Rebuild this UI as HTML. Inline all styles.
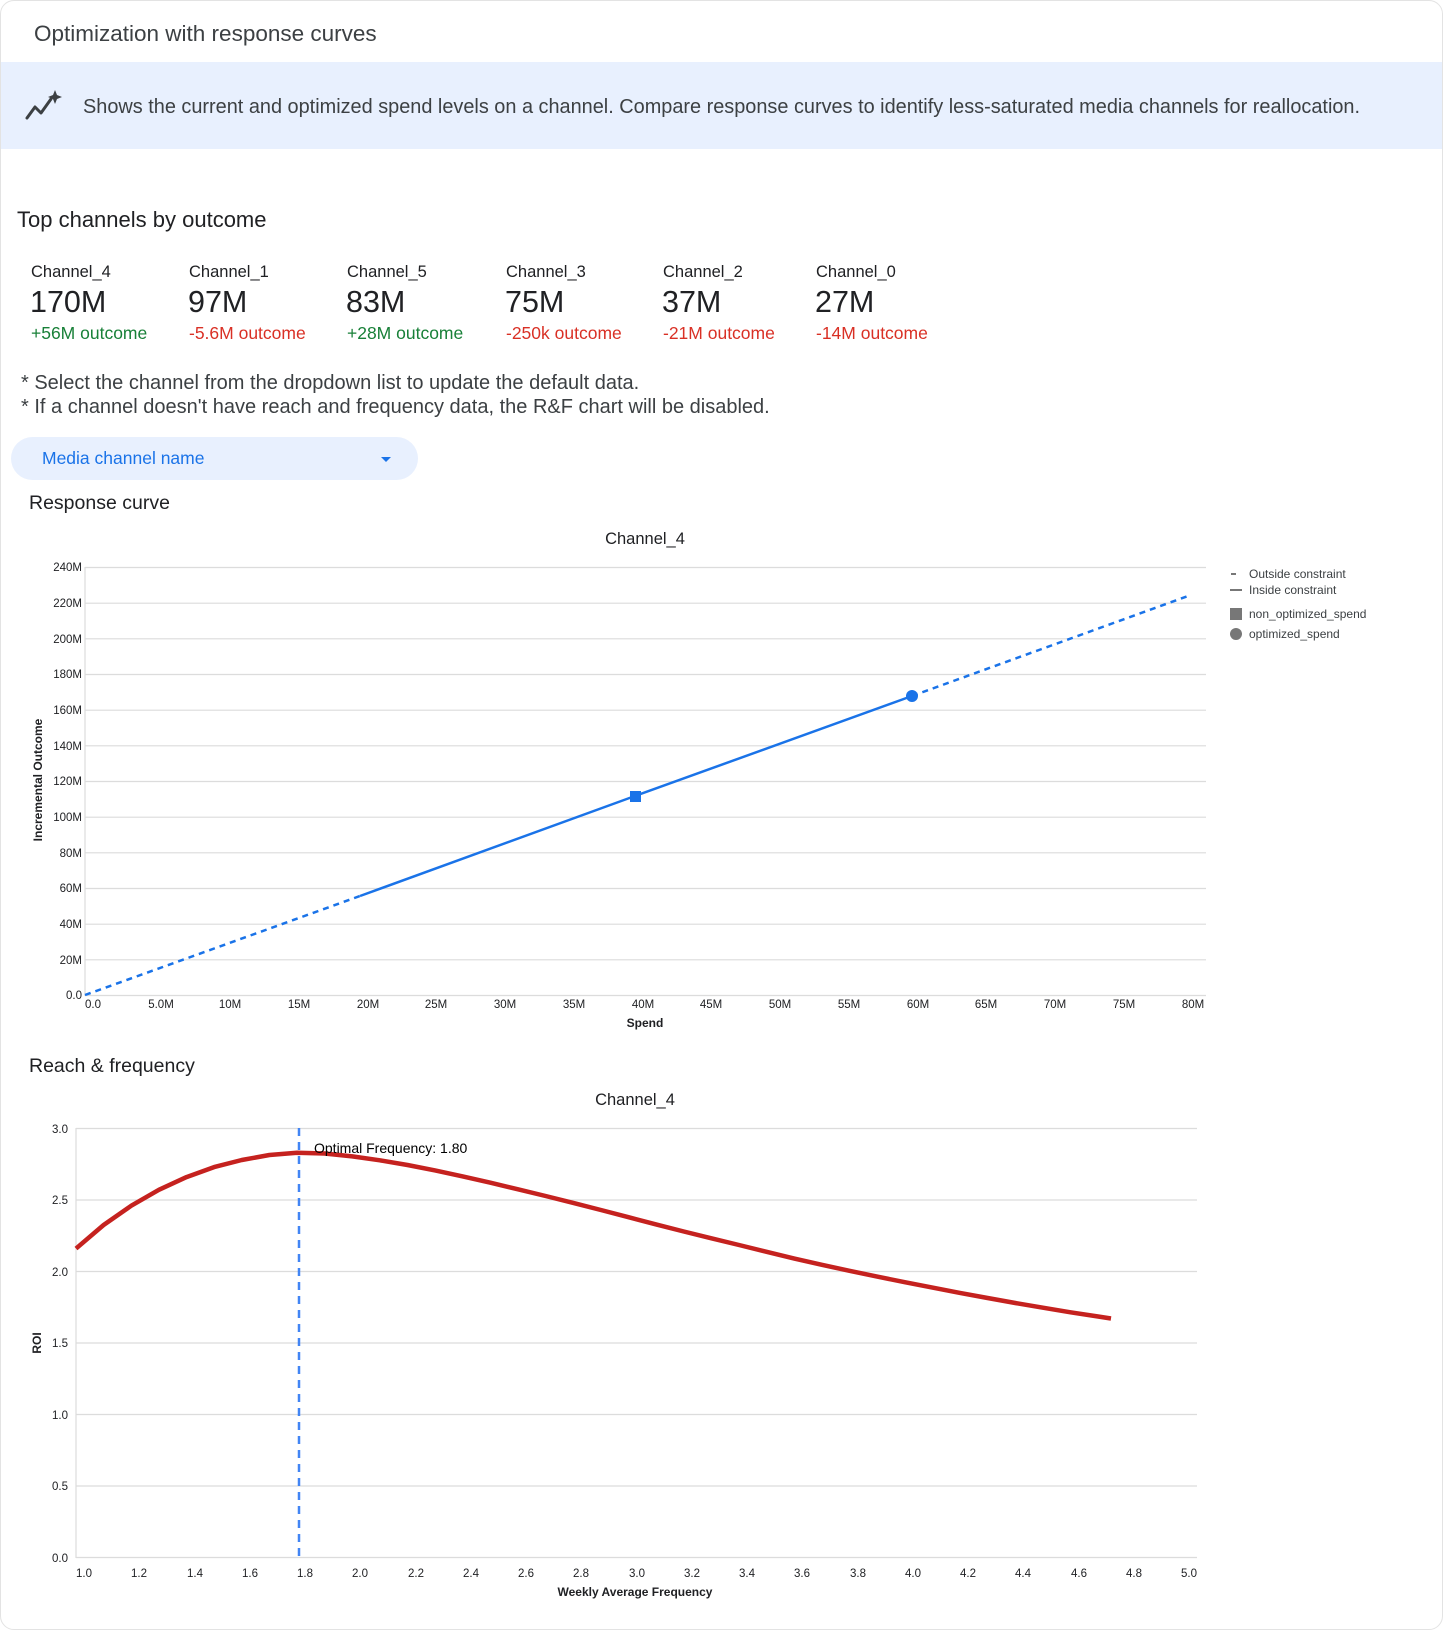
<!DOCTYPE html>
<html><head><meta charset="utf-8"><style>
body{margin:0;width:1444px;height:1631px;background:#fff;font-family:"Liberation Sans",Arial,sans-serif;position:relative;overflow:hidden;color:#3c4043}
.a{position:absolute;white-space:nowrap}
.card{position:absolute;left:0;top:0;width:1441px;height:1628px;border:1px solid #e3e3e3;border-radius:14px}
.banner{position:absolute;left:1px;top:62px;width:1441px;height:87px;background:#e8f0fe}
.nm{font-size:16.5px;color:#202124}
.val{font-size:30.5px;color:#202124}
.g{font-size:17.5px;color:#188038}
.r{font-size:17.5px;color:#d93025}
svg text{font-family:"Liberation Sans",Arial,sans-serif}
</style></head><body>
<div class="card"></div>
<div class="a" style="left:34px;top:21px;font-size:22.5px;color:#3c4043">Optimization with response curves</div>
<div class="banner"></div>
<svg class="a" style="left:24px;top:88px" width="40" height="36" viewBox="0 0 40 36"><polyline points="3,30 11,19 17,25 27,11" fill="none" stroke="#3c4043" stroke-width="3" stroke-linejoin="round" stroke-linecap="round"/><path d="M31 2 L33 7 L38 9 L33 11 L31 16 L29 11 L24 9 L29 7Z" fill="#3c4043"/></svg>
<div class="a" style="left:83px;top:96px;font-size:19.9px;color:#3c4043">Shows the current and optimized spend levels on a channel. Compare response curves to identify less-saturated media channels for reallocation.</div>
<div class="a" style="left:17px;top:207px;font-size:22px;color:#202124">Top channels by outcome</div>
<div class="a nm" style="left:31px;top:263px">Channel_4</div>
<div class="a nm" style="left:189px;top:263px">Channel_1</div>
<div class="a nm" style="left:347px;top:263px">Channel_5</div>
<div class="a nm" style="left:506px;top:263px">Channel_3</div>
<div class="a nm" style="left:663px;top:263px">Channel_2</div>
<div class="a nm" style="left:816px;top:263px">Channel_0</div>
<div class="a val" style="left:30px;top:285px">170M</div>
<div class="a val" style="left:188px;top:285px">97M</div>
<div class="a val" style="left:346px;top:285px">83M</div>
<div class="a val" style="left:505px;top:285px">75M</div>
<div class="a val" style="left:662px;top:285px">37M</div>
<div class="a val" style="left:815px;top:285px">27M</div>
<div class="a g" style="left:31px;top:323px">+56M outcome</div>
<div class="a r" style="left:189px;top:323px">-5.6M outcome</div>
<div class="a g" style="left:347px;top:323px">+28M outcome</div>
<div class="a r" style="left:506px;top:323px">-250k outcome</div>
<div class="a r" style="left:663px;top:323px">-21M outcome</div>
<div class="a r" style="left:816px;top:323px">-14M outcome</div>
<div class="a" style="left:21px;top:372px;font-size:20px;color:#3c4043">* Select the channel from the dropdown list to update the default data.</div>
<div class="a" style="left:21px;top:396px;font-size:20px;color:#3c4043">* If a channel doesn't have reach and frequency data, the R&amp;F chart will be disabled.</div>
<div class="a" style="left:11px;top:437px;width:407px;height:43px;border-radius:22px;background:#e8f0fe"></div>
<div class="a" style="left:42px;top:448px;font-size:17.5px;color:#1a73e8">Media channel name</div>
<div class="a" style="left:381px;top:457px;width:0;height:0;border-left:5px solid transparent;border-right:5px solid transparent;border-top:5px solid #1a73e8"></div>
<div class="a" style="left:29px;top:492px;font-size:19.5px;color:#202124">Response curve</div>
<div class="a" style="left:29px;top:1055px;font-size:19.5px;color:#202124">Reach &amp; frequency</div>

<svg class="a" style="left:0;top:0" width="1444" height="1631">
<g font-size="11.5" fill="#202124">
<text x="645" y="544" text-anchor="middle" font-size="16.5">Channel_4</text>
<g stroke="#dcdcdc" stroke-width="1.2">
<line x1="85" x2="1206" y1="567.5" y2="567.5"/><line x1="85" x2="1206" y1="603.2" y2="603.2"/><line x1="85" x2="1206" y1="638.8" y2="638.8"/><line x1="85" x2="1206" y1="674.5" y2="674.5"/><line x1="85" x2="1206" y1="710.2" y2="710.2"/><line x1="85" x2="1206" y1="745.8" y2="745.8"/><line x1="85" x2="1206" y1="781.5" y2="781.5"/><line x1="85" x2="1206" y1="817.2" y2="817.2"/><line x1="85" x2="1206" y1="852.8" y2="852.8"/><line x1="85" x2="1206" y1="888.5" y2="888.5"/><line x1="85" x2="1206" y1="924.2" y2="924.2"/><line x1="85" x2="1206" y1="959.8" y2="959.8"/><line x1="85" x2="1206" y1="995.5" y2="995.5"/>
<line x1="85" x2="85" y1="567" y2="996"/>
</g>
<g text-anchor="end">
<text x="82" y="571">240M</text><text x="82" y="607">220M</text><text x="82" y="643">200M</text><text x="82" y="678">180M</text><text x="82" y="714">160M</text><text x="82" y="750">140M</text><text x="82" y="785">120M</text><text x="82" y="821">100M</text><text x="82" y="857">80M</text><text x="82" y="892">60M</text><text x="82" y="928">40M</text><text x="82" y="964">20M</text><text x="82" y="999">0.0</text>
</g>
<g text-anchor="middle">
<text x="93" y="1008">0.0</text><text x="161" y="1008">5.0M</text><text x="230" y="1008">10M</text><text x="299" y="1008">15M</text><text x="368" y="1008">20M</text><text x="436" y="1008">25M</text><text x="505" y="1008">30M</text><text x="574" y="1008">35M</text><text x="643" y="1008">40M</text><text x="711" y="1008">45M</text><text x="780" y="1008">50M</text><text x="849" y="1008">55M</text><text x="918" y="1008">60M</text><text x="986" y="1008">65M</text><text x="1055" y="1008">70M</text><text x="1124" y="1008">75M</text><text x="1193" y="1008">80M</text>
</g>
<text x="645" y="1027" text-anchor="middle" font-weight="bold" font-size="12">Spend</text>
<text transform="translate(42,780) rotate(-90)" text-anchor="middle" font-weight="bold" font-size="12">Incremental Outcome</text>
<polyline points="85,995 360,896" fill="none" stroke="#1a73e8" stroke-width="2.5" stroke-dasharray="6,5"/>
<polyline points="360,896 635,796 912,696" fill="none" stroke="#1a73e8" stroke-width="2.5"/>
<polyline points="912,696 1188,596" fill="none" stroke="#1a73e8" stroke-width="2.5" stroke-dasharray="6,5"/>
<rect x="630" y="791" width="11" height="11" fill="#1a73e8"/>
<circle cx="912" cy="696" r="6" fill="#1a73e8"/>
<g fill="#3c4043" font-size="12">
<rect x="1231" y="573" width="5" height="2" fill="#777"/><text x="1249" y="578">Outside constraint</text>
<rect x="1230" y="589" width="12" height="2" fill="#777"/><text x="1249" y="594">Inside constraint</text>
<rect x="1230" y="608" width="12" height="12" fill="#777"/><text x="1249" y="618">non_optimized_spend</text>
<circle cx="1236" cy="634" r="6" fill="#777"/><text x="1249" y="638">optimized_spend</text>
</g>

<text x="635" y="1105" text-anchor="middle" font-size="16.5">Channel_4</text>
<g stroke="#dcdcdc" stroke-width="1.2">
<line x1="76" x2="1197" y1="1128.5" y2="1128.5"/><line x1="76" x2="1197" y1="1200" y2="1200"/><line x1="76" x2="1197" y1="1271.5" y2="1271.5"/><line x1="76" x2="1197" y1="1343" y2="1343"/><line x1="76" x2="1197" y1="1414.5" y2="1414.5"/><line x1="76" x2="1197" y1="1486" y2="1486"/><line x1="76" x2="1197" y1="1557.5" y2="1557.5"/>
<line x1="76" x2="76" y1="1128" y2="1558"/>
</g>
<g text-anchor="end">
<text x="68" y="1133">3.0</text><text x="68" y="1204">2.5</text><text x="68" y="1276">2.0</text><text x="68" y="1347">1.5</text><text x="68" y="1419">1.0</text><text x="68" y="1490">0.5</text><text x="68" y="1562">0.0</text>
</g>
<g>
<text x="76" y="1577">1.0</text><text x="131" y="1577">1.2</text><text x="187" y="1577">1.4</text><text x="242" y="1577">1.6</text><text x="297" y="1577">1.8</text><text x="352" y="1577">2.0</text><text x="408" y="1577">2.2</text><text x="463" y="1577">2.4</text><text x="518" y="1577">2.6</text><text x="573" y="1577">2.8</text><text x="629" y="1577">3.0</text><text x="684" y="1577">3.2</text><text x="739" y="1577">3.4</text><text x="794" y="1577">3.6</text><text x="850" y="1577">3.8</text><text x="905" y="1577">4.0</text><text x="960" y="1577">4.2</text><text x="1015" y="1577">4.4</text><text x="1071" y="1577">4.6</text><text x="1126" y="1577">4.8</text><text x="1181" y="1577">5.0</text>
</g>
<text x="635" y="1596" text-anchor="middle" font-weight="bold" font-size="12">Weekly Average Frequency</text>
<text transform="translate(41,1343) rotate(-90)" text-anchor="middle" font-weight="bold" font-size="12">ROI</text>
<line x1="299" x2="299" y1="1128" y2="1557" stroke="#4285f4" stroke-width="2.5" stroke-dasharray="8,6"/>
<polyline points="76,1248.6 103.6,1225 131.3,1205.7 158.9,1189.8 186.5,1177.1 214.1,1167.1 241.8,1160 269.4,1155 297,1152.8 324.6,1153.5 352.3,1156.4 379.9,1160.3 407.5,1165 435.1,1170.4 462.8,1176.4 490.4,1182.7 518,1189.3 545.6,1196 573.3,1202.9 600.9,1210 628.5,1217.2 656.1,1224.4 683.8,1231.5 711.4,1238.3 739,1245 766.6,1251.8 794.3,1258.6 821.9,1264.8 849.5,1270.8 877.1,1276.6 904.8,1282.2 932.4,1287.6 960,1292.9 987.6,1298 1015.3,1303 1042.9,1307.7 1070.5,1312.3 1098.1,1316.5 1111,1318.5" fill="none" stroke="#c5221f" stroke-width="4.5" stroke-linejoin="round"/>
<text x="314" y="1153" font-size="14" fill="#000">Optimal Frequency: 1.80</text>
</g>
</svg>
</body></html>
